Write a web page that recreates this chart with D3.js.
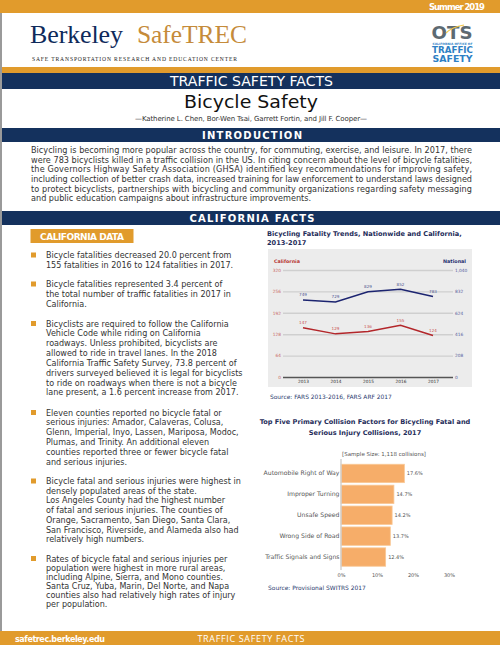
<!DOCTYPE html>
<html><head><meta charset="utf-8">
<script src="https://cdn.jsdelivr.net/npm/d3@7/dist/d3.min.js"></script>
<style>html,body{margin:0;padding:0;background:#fff;} svg{display:block;}</style>
</head><body>
<svg id="c" width="500" height="645"></svg>
<script>
// ---------------- DATA ----------------
const years = ["2013", "2014", "2015", "2016", "2017"];
const californiaFatalities = [147, 129, 136, 155, 124];
const nationalFatalities = [749, 729, 829, 852, 783];
const californiaTicks = [0, 64, 128, 192, 256, 320];
const nationalTicks = [0, 208, 416, 624, 832, 1040];

const factors = ["Automobile Right of Way", "Improper Turning", "Unsafe Speed", "Wrong Side of Road", "Traffic Signals and Signs"];
const factorShares = [17.6, 14.7, 14.2, 13.7, 12.4];
const shareTicks = [0, 10, 20, 30];

const introLines = [
  "Bicycling is becoming more popular across the country, for commuting, exercise, and leisure. In 2017, there",
  "were 783 bicyclists killed in a traffic collision in the US.  In citing concern about the level of bicycle fatalities,",
  "the Governors Highway Safety Association (GHSA) identified key recommendations for improving safety,",
  "including collection of better crash data, increased training for law enforcement to understand laws designed",
  "to protect bicyclists, partnerships with bicycling and community organizations regarding safety messaging",
  "and public education campaigns about infrastructure improvements."
];
const bullets = [
  ["Bicycle fatalities decreased 20.0 percent from", "155 fatalities in 2016 to 124 fatalities in 2017."],
  ["Bicycle fatalities represented 3.4 percent of", "the total number of traffic fatalities in 2017 in", "California."],
  ["Bicyclists are required to follow the California", "Vehicle Code while riding on California", "roadways.  Unless prohibited, bicyclists are", "allowed to ride in travel lanes.  In the 2018", "California Traffic Safety Survey, 73.8 percent of", "drivers surveyed believed it is legal for bicyclists", "to ride on roadways when there is not a bicycle", "lane present, a 1.6 percent increase from 2017."],
  ["Eleven counties reported no bicycle fatal or", "serious injuries: Amador, Calaveras, Colusa,", "Glenn, Imperial, Inyo, Lassen, Mariposa, Modoc,", "Plumas, and Trinity. An additional eleven", "counties reported three or fewer bicycle fatal", "and serious injuries."],
  ["Bicycle fatal and serious injuries were highest in", "densely populated areas of the state.", "Los Angeles County had the highest number", "of fatal and serious injuries.  The counties of", "Orange, Sacramento, San Diego, Santa Clara,", "San Francisco, Riverside, and Alameda also had", "relatively high numbers."],
  ["Rates of bicycle fatal and serious injuries per", "population were highest in more rural areas,", "including Alpine, Sierra, and Mono counties.", "Santa Cruz, Yuba, Marin, Del Norte, and Napa", "counties also had relatively high rates of injury", "per population."]
];
const bulletTops = [258, 287, 326.5, 415.5, 484, 561.5];
const bulletSpacing = [10, 9.8, 9.85, 9.85, 9.7, 9.1];

// ---------------- STYLE ----------------
const ORANGE = "#e19b2c", NAVY = "#14315d";
const BODY = "'DejaVu Sans', sans-serif", SERIF = "'Liberation Serif', serif";
const svg = d3.select("#c");
const meas = svg.append("text").attr("visibility", "hidden");
function fit(str, width, family, weight) {
  meas.attr("font-family", family || BODY).attr("font-weight", weight || "normal").attr("font-size", 20).text(str);
  return 20 * width / meas.node().getComputedTextLength();
}
function txt(g, s, x, y, o) {
  o = o || {};
  const t = g.append("text").attr("x", x).attr("y", y).text(s)
    .attr("font-family", o.family || BODY).attr("font-size", o.size || 8)
    .attr("font-weight", o.weight || "normal").attr("fill", o.fill || "#333")
    .attr("text-anchor", o.anchor || "start");
  if (o.len) t.attr("textLength", o.len).attr("lengthAdjust", o.adjust || "spacing");
  return t;
}

// ---------------- PAGE FRAME ----------------
svg.append("rect").attr("x", 0).attr("y", 0).attr("width", 500).attr("height", 13).attr("fill", ORANGE);
txt(svg, "Summer 2019", 485, 10, {anchor: "end", size: 8.5, weight: "bold", fill: "#fff", len: 56});
svg.append("rect").attr("x", 0).attr("y", 13).attr("width", 2).attr("height", 618).attr("fill", "#9a9a9a");

// Berkeley SafeTREC logo
txt(svg, "Berkeley", 30, 43, {family: SERIF, size: 26, fill: "#0f2a5b", len: 93});
txt(svg, "SafeTREC", 137, 43, {family: SERIF, size: 25.5, fill: "#c58b3a", len: 110});
txt(svg, "SAFE TRANSPORTATION RESEARCH AND EDUCATION CENTER", 32, 61.3, {family: SERIF, size: 5.6, fill: "#222", len: 205});

// OTS logo
txt(svg, "OTS", 452, 38.5, {anchor: "middle", size: 18, weight: "900", fill: "#5d6a72", len: 41, adjust: "spacingAndGlyphs"});
svg.append("path").attr("d", "M446,33 Q452,27 464,25").attr("stroke", "#f2c84b").attr("stroke-width", 1.2).attr("fill", "none");
txt(svg, "CALIFORNIA OFFICE OF", 452.5, 44.5, {anchor: "middle", size: 3, weight: "bold", fill: "#2e80c4", len: 40});
txt(svg, "TRAFFIC", 452.5, 53.2, {anchor: "middle", size: 8.5, weight: "bold", fill: "#2e80c4", len: 41, adjust: "spacingAndGlyphs"});
txt(svg, "SAFETY", 452.5, 61.8, {anchor: "middle", size: 8.5, weight: "bold", fill: "#2e80c4", len: 40, adjust: "spacingAndGlyphs"});

// Title bands
svg.append("rect").attr("x", 2).attr("y", 67).attr("width", 498).attr("height", 6).attr("fill", ORANGE);
svg.append("rect").attr("x", 2).attr("y", 73).attr("width", 498).attr("height", 16).attr("fill", NAVY);
txt(svg, "TRAFFIC SAFETY FACTS", 251.5, 86, {anchor: "middle", size: 14.5, fill: "#fff", len: 163, adjust: "spacingAndGlyphs"});
txt(svg, "Bicycle Safety", 251, 108.3, {anchor: "middle", size: 18, fill: "#111", len: 134, adjust: "spacingAndGlyphs"});
txt(svg, "\u2014Katherine L. Chen, Bor-Wen Tsai, Garrett Fortin, and Jill F. Cooper\u2014", 251, 121.3, {anchor: "middle", size: 7, fill: "#333", len: 232});

function band(y, label, len) {
  svg.append("rect").attr("x", 2).attr("y", y).attr("width", 498).attr("height", 14).attr("fill", NAVY);
  txt(svg, label, 252, y + 11, {anchor: "middle", size: 10, weight: "bold", fill: "#fff", len: len});
}
band(128, "INTRODUCTION", 100);
band(211, "CALIFORNIA FACTS", 125);

// Intro paragraph (justified)
const introSize = fit(introLines[0], 441);
introLines.forEach((l, i) => {
  const t = txt(svg, l, 31, 153 + i * 9.67, {size: introSize, fill: "#333"});
  if (i < introLines.length - 1) t.attr("textLength", 441).attr("lengthAdjust", "spacing");
});

// California data label
svg.append("rect").attr("x", 30.5).attr("y", 229).attr("width", 103).attr("height", 14).attr("fill", ORANGE);
txt(svg, "CALIFORNIA DATA", 82, 240, {anchor: "middle", size: 9, weight: "bold", fill: "#fff", len: 84});

// Bullets
const bulletSize = fit("drivers surveyed believed it is legal for bicyclists", 196.7);
bullets.forEach((lines, b) => {
  svg.append("rect").attr("x", 31).attr("y", bulletTops[b] - 5.5).attr("width", 5).attr("height", 5).attr("fill", ORANGE);
  lines.forEach((l, i) => txt(svg, l, 46, bulletTops[b] + i * bulletSpacing[b], {size: bulletSize, fill: "#333"}));
});

// Footer
svg.append("rect").attr("x", 0).attr("y", 631).attr("width", 500).attr("height", 14).attr("fill", ORANGE);
txt(svg, "safetrec.berkeley.edu", 15, 641.5, {size: 8, weight: "bold", fill: "#fff", len: 90});
txt(svg, "TRAFFIC SAFETY FACTS", 251, 641.5, {anchor: "middle", size: 9, fill: "#fff", len: 107, family: "'Open Sans', sans-serif"});

// ---------------- LINE CHART ----------------
const TITLE = "#1f2d5a";
const ltSize = fit("Bicycling Fatality Trends, Nationwide and California,", 195, BODY, "bold");
txt(svg, "Bicycling Fatality Trends, Nationwide and California,", 267, 235.5, {size: ltSize, weight: "bold", fill: TITLE});
txt(svg, "2013-2017", 267, 245, {size: ltSize, weight: "bold", fill: TITLE});

svg.append("rect").attr("x", 268).attr("y", 249).attr("width", 204).attr("height", 138).attr("fill", "#ececec");

const x = d3.scalePoint().domain(years).range([303, 433]);
const yL = d3.scaleLinear().domain([0, 320]).range([377, 270]);
const yR = d3.scaleLinear().domain([0, 1040]).range([377, 270]);
const gridL = 283, gridR = 453;
const tickSize = fit("2013", 11);

const axL = svg.append("g").attr("transform", `translate(${gridL},0)`)
  .call(d3.axisLeft(yL).tickValues(californiaTicks).tickSize(-(gridR - gridL)).tickPadding(2).tickFormat(d3.format("d")));
axL.select(".domain").remove();
axL.selectAll(".tick line").attr("stroke", d => d === 0 ? "#555" : "#cfcfcf").attr("stroke-width", 1.4);
axL.selectAll(".tick text").attr("font-family", BODY).attr("font-size", tickSize).attr("fill", "#c96a66");

const axR = svg.append("g").attr("transform", `translate(${gridR},0)`)
  .call(d3.axisRight(yR).tickValues(nationalTicks).tickSize(0).tickPadding(2).tickFormat(d3.format(",")));
axR.select(".domain").remove();
axR.selectAll(".tick text").attr("font-family", BODY).attr("font-size", tickSize).attr("fill", "#5a63a0");

const axB = svg.append("g").attr("transform", "translate(0,377)")
  .call(d3.axisBottom(x).tickSize(0).tickPadding(3));
axB.select(".domain").remove();
axB.selectAll(".tick text").attr("font-family", BODY).attr("font-size", tickSize).attr("fill", "#333");

txt(svg, "California", 274, 263, {size: fit("California", 26, BODY, "bold"), weight: "bold", fill: "#b5322e"});
txt(svg, "National", 466, 263, {size: fit("National", 23, BODY, "bold"), weight: "bold", fill: "#1f2d6e", anchor: "end"});

function series(vals, y, color, labColor) {
  svg.append("path").datum(vals)
    .attr("d", d3.line().x((d, i) => x(years[i])).y(d => y(d)))
    .attr("fill", "none").attr("stroke", color).attr("stroke-width", 1.5);
  svg.append("g").selectAll("text").data(vals).join("text")
    .attr("x", (d, i) => x(years[i])).attr("y", d => y(d) - 3.5)
    .attr("text-anchor", "middle").attr("font-family", BODY).attr("font-size", tickSize * 0.95)
    .attr("fill", labColor).text(d => d);
}
series(nationalFatalities, yR, "#1c2470", "#4c5590");
series(californiaFatalities, yL, "#b3262a", "#c9504d");

txt(svg, "Source: FARS 2013-2016, FARS ARF 2017", 270, 399, {size: fit("Source: FARS 2013-2016, FARS ARF 2017", 122), fill: "#2a3b6e"});

// ---------------- BAR CHART ----------------
const btSize = fit("Top Five Primary Collision Factors for Bicycling Fatal and", 211, BODY, "bold");
txt(svg, "Top Five Primary Collision Factors for Bicycling Fatal and", 365, 424.3, {anchor: "middle", size: btSize, weight: "bold", fill: TITLE});
txt(svg, "Serious Injury Collisions, 2017", 365, 435.3, {anchor: "middle", size: btSize, weight: "bold", fill: TITLE});
txt(svg, "[Sample Size: 1,118 collisions]", 384, 455.5, {anchor: "middle", size: fit("[Sample Size: 1,118 collisions]", 84), fill: "#555"});

const xb = d3.scaleLinear().domain([0, 30]).range([341, 449]);
const yb = d3.scaleBand().domain(factors).range([463, 567.5]).paddingInner(0.12).paddingOuter(0.06);

svg.append("g").selectAll("rect").data(factorShares).join("rect")
  .attr("x", xb(0)).attr("y", (d, i) => yb(factors[i]))
  .attr("width", d => xb(d) - xb(0)).attr("height", yb.bandwidth())
  .attr("fill", "#f6ad69").attr("stroke", "#f9c896").attr("stroke-width", 0.8);

const valSize = fit("17.6%", 16);
svg.append("g").selectAll("text").data(factorShares).join("text")
  .attr("x", d => xb(d) + 2.5).attr("y", (d, i) => yb(factors[i]) + yb.bandwidth() / 2 + 2)
  .attr("font-family", BODY).attr("font-size", valSize).attr("fill", "#555").text(d => d.toFixed(1) + "%");

const ayb = svg.append("g").attr("transform", `translate(${xb(0)},0)`)
  .call(d3.axisLeft(yb).tickSize(0).tickPadding(1.5));
ayb.select(".domain").remove();
ayb.selectAll(".tick text").attr("font-family", BODY).attr("font-size", fit("Automobile Right of Way", 76)).attr("fill", "#555");
svg.append("line").attr("x1", xb(0)).attr("x2", xb(0)).attr("y1", 459).attr("y2", 570)
  .attr("stroke", "#cfcfcf").attr("stroke-width", 1.4);

const axb = svg.append("g").attr("transform", "translate(0,570)")
  .call(d3.axisBottom(xb).tickValues(shareTicks).tickSize(0).tickPadding(3).tickFormat(d => d + "%"));
axb.select(".domain").remove();
axb.selectAll(".tick text").attr("font-family", BODY).attr("font-size", valSize).attr("fill", "#555");

txt(svg, "Source: Provisional SWITRS 2017", 268, 589.5, {size: fit("Source: Provisional SWITRS 2017", 98), fill: "#2a3b6e"});
meas.remove();
</script>
</body></html>
